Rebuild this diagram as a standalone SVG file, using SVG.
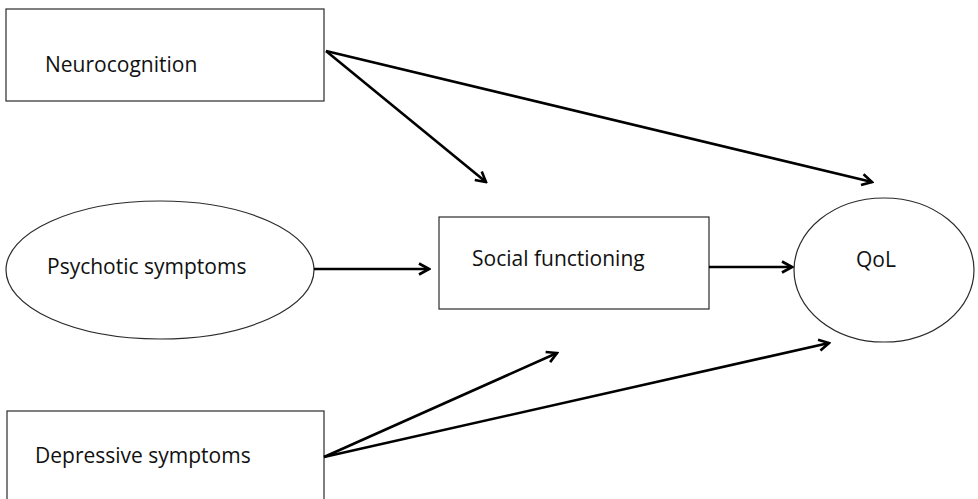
<svg xmlns="http://www.w3.org/2000/svg" width="978" height="499" viewBox="0 0 978 499">
<style>
.box{fill:#fff;stroke:#2a2a2a;stroke-width:1.2}
.lbl{font-family:"Open Sans","Noto Sans","Liberation Sans",sans-serif;font-size:21px;fill:#111}
.conn{stroke:#000;stroke-width:2.6;fill:none;marker-end:url(#ah)}
</style>
<defs>
<marker id="ah" markerUnits="userSpaceOnUse" viewBox="0 0 14 14" refX="12" refY="7" markerWidth="14" markerHeight="14" orient="auto">
<path d="M2,1.5 L12,7 L2,12.5" fill="none" stroke="#000" stroke-width="2.6" stroke-linejoin="miter"/>
</marker>
</defs>
<rect width="978" height="499" fill="#fff"/>
<g id="neurocognition">
<rect class="box" x="6" y="9" width="318" height="92"/>
<text class="lbl" x="45" y="72">Neurocognition</text>
</g>
<g id="psychotic">
<ellipse class="box" cx="160" cy="270" rx="154" ry="69"/>
<text class="lbl" x="47" y="274">Psychotic symptoms</text>
</g>
<g id="social">
<rect class="box" x="439" y="217" width="270" height="92"/>
<text class="lbl" x="472" y="266">Social functioning</text>
</g>
<g id="qol">
<ellipse class="box" cx="884" cy="270" rx="90" ry="72"/>
<text class="lbl" x="856" y="267">QoL</text>
</g>
<g id="depressive">
<rect class="box" x="7" y="411" width="317" height="100"/>
<text class="lbl" x="35" y="463">Depressive symptoms</text>
</g>
<g id="connectors">
<line class="conn" x1="326" y1="51" x2="486" y2="182"/>
<line class="conn" x1="326" y1="51" x2="872" y2="182"/>
<line class="conn" x1="314" y1="269" x2="429" y2="269"/>
<line class="conn" x1="709" y1="267" x2="792" y2="267"/>
<line class="conn" x1="324" y1="457" x2="557" y2="353"/>
<line class="conn" x1="324" y1="457" x2="829" y2="343"/>
</g>
</svg>
